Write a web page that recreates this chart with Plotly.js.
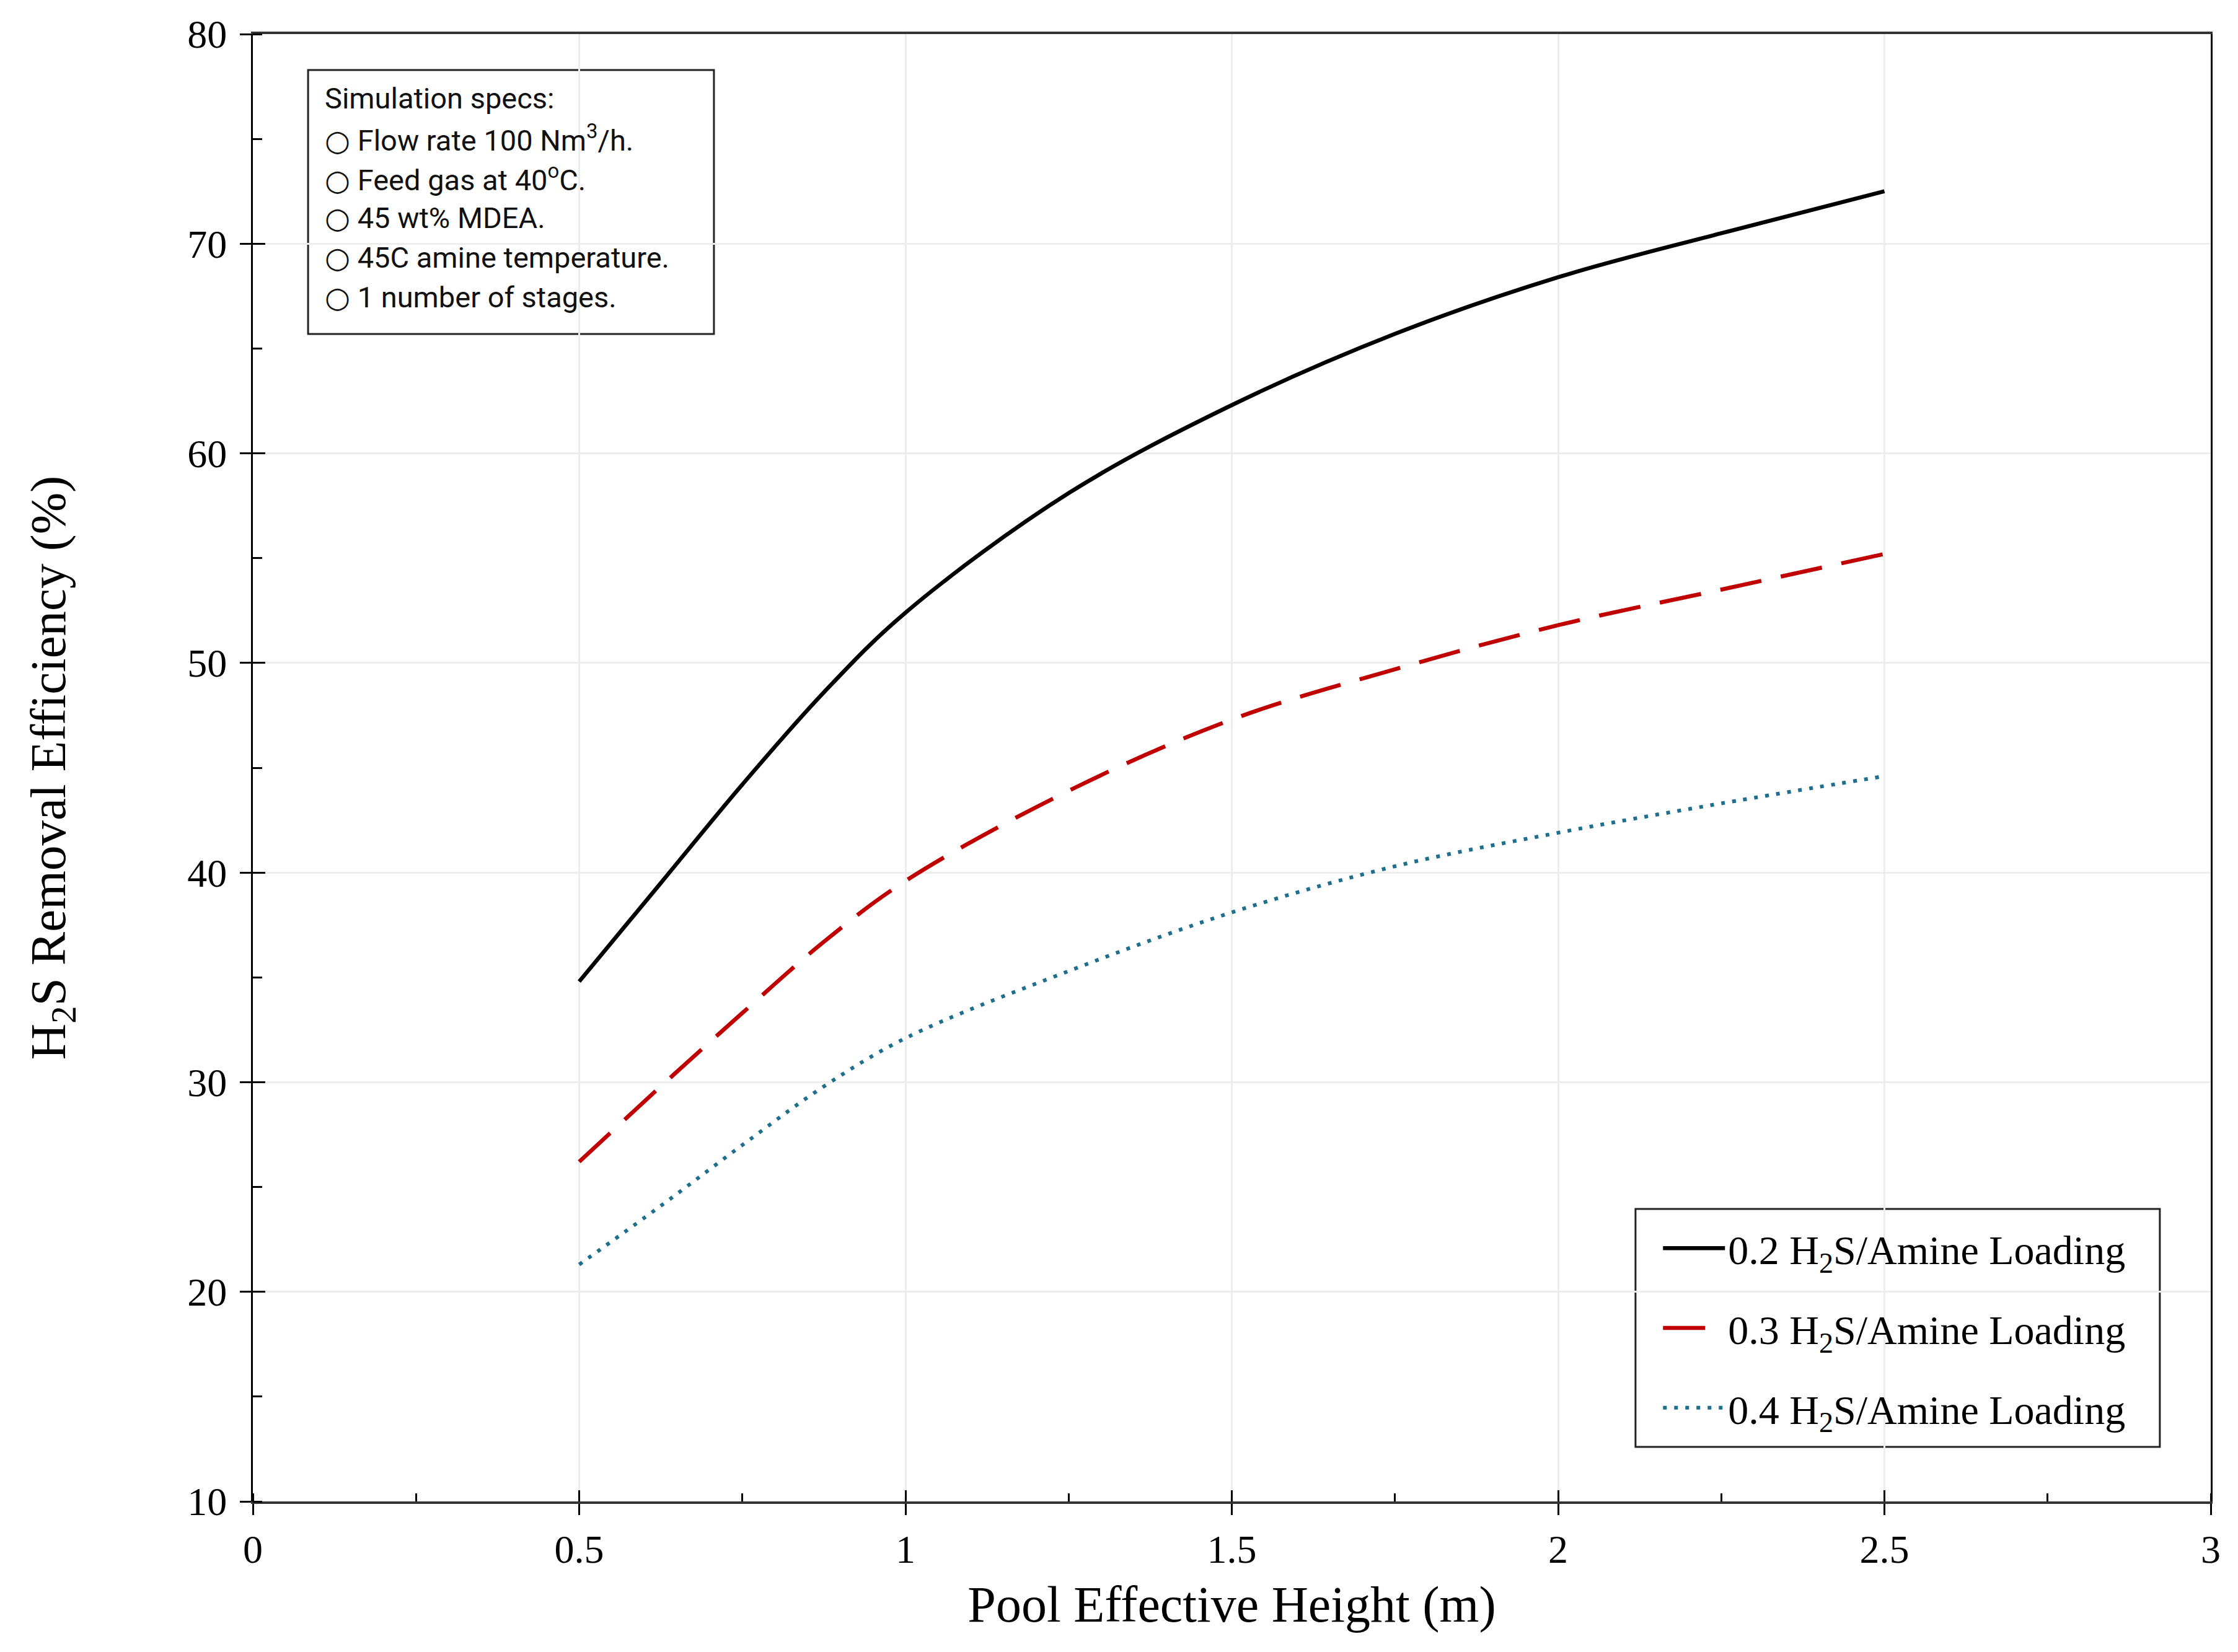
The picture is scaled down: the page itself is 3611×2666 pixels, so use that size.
<!DOCTYPE html>
<html>
<head>
<meta charset="utf-8">
<script src="https://cdn.plot.ly/plotly-3.0.1.min.js"></script>
<style>
  html, body { margin: 0; padding: 0; background: #fff; }
  #plot { width: 3611px; height: 2666px; }
</style>
</head>
<body>
<div id="plot"></div>
<script>
// pool effective height (m)
const height = [0.5, 0.625, 0.75, 0.875, 1.0, 1.25, 1.5, 1.75, 2.0, 2.25, 2.5]

// H2S removal efficiency (%)
const load02 = [34.8, 39.5, 44.2, 48.6, 52.4, 58.1, 62.3, 65.7, 68.4, 70.5, 72.5]
const load03 = [26.2, 29.8, 33.3, 36.7, 39.6, 43.9, 47.3, 49.7, 51.8, 53.5, 55.2]
const load04 = [21.3, 24.1, 27.0, 29.8, 32.1, 35.3, 38.1, 40.3, 41.9, 43.3, 44.6]

const seriesNames = [
  '0.2 H<sub>2</sub>S/Amine Loading',
  '0.3 H<sub>2</sub>S/Amine Loading',
  '0.4 H<sub>2</sub>S/Amine Loading'
]

const circle = '<span style="font-family:DejaVu Sans">○</span>'
const specLines = [
  'Simulation specs:',
  circle + ' Flow rate 100 Nm<sup>3</sup>/h.',
  circle + ' Feed gas at 40<sup>o</sup>C.',
  circle + ' 45 wt% MDEA.',
  circle + ' 45C amine temperature.',
  circle + ' 1 number of stages.'
]

const serif = 'Liberation Serif, Times New Roman, serif'
const sans = 'Roboto, Lato, sans-serif'

const styles = [
  { color: '#000000', width: 6.5, dash: 'solid' },
  { color: '#c00000', width: 6.5, dash: '68px,32px' },
  { color: '#1e6e8e', width: 6, dash: '6px,12px' }
]

const traces = [load02, load03, load04].map((ys, i) => ({
  x: height,
  y: ys,
  type: 'scatter',
  mode: 'lines',
  name: seriesNames[i],
  legendgroup: 'g' + i,
  line: { shape: 'spline', smoothing: 1, ...styles[i] }
}))

const annotations = specLines.map((t, i) => ({
  xref: 'paper', yref: 'paper',
  x: 0.036, y: 0.9563 - i * 0.0271,
  xanchor: 'left', yanchor: 'middle',
  showarrow: false,
  align: 'left',
  text: t,
  font: { family: sans, size: 47, color: '#111' }
}))

// frame boxes for the specs note and the legend (paper coords)
const boxes = [
  { x0: 0.0282, x1: 0.2355, y0: 0.7956, y1: 0.9755 },
  { x0: 0.7062, x1: 0.9740, y0: 0.0372, y1: 0.1993 }
]

const layout = {
  width: 3611,
  height: 2666,
  paper_bgcolor: '#fff',
  plot_bgcolor: '#fff',
  margin: { l: 408, r: 44, t: 55, b: 243 },
  showlegend: true,
  legend: {
    x: 0.706, y: 0.1935, xanchor: 'left', yanchor: 'top',
    bgcolor: 'rgba(0,0,0,0)',
    borderwidth: 0,
    traceorder: 'grouped',
    tracegroupgap: 40,
    itemwidth: 100,
    indentation: 40,
    font: { family: serif, size: 66, color: '#000' }
  },
  xaxis: {
    range: [0, 3],
    dtick: 0.5,
    tick0: 0,
    ticks: 'outside',
    ticklen: 18,
    tickwidth: 3,
    tickcolor: '#000',
    minor: { dtick: 0.25, ticks: 'inside', ticklen: 13, tickwidth: 3, tickcolor: '#000', showgrid: false },
    showline: true,
    linecolor: '#333',
    linewidth: 4,
    mirror: true,
    showgrid: true,
    gridcolor: '#ededed',
    gridwidth: 3,
    zeroline: false,
    tickfont: { family: serif, size: 64, color: '#000' },
    title: { text: 'Pool Effective Height (m)', standoff: 26, font: { family: serif, size: 82, color: '#000' } }
  },
  yaxis: {
    range: [10, 80],
    dtick: 10,
    tick0: 0,
    ticks: 'outside',
    ticklen: 18,
    tickwidth: 3,
    tickcolor: '#000',
    ticklabelstandoff: 8,
    minor: { dtick: 5, ticks: 'inside', ticklen: 15, tickwidth: 3, tickcolor: '#000', showgrid: false },
    showline: true,
    linecolor: '#000',
    linewidth: 3,
    mirror: true,
    showgrid: true,
    gridcolor: '#ededed',
    gridwidth: 3,
    zeroline: false,
    tickfont: { family: serif, size: 64, color: '#000' },
    title: { text: 'H<sub>2</sub>S Removal Efficiency (%)', standoff: 170, font: { family: serif, size: 81, color: '#000' } }
  },
  // second pair of axes only to draw the inner half of the major ticks
  xaxis2: {
    overlaying: 'x', anchor: 'y', side: 'bottom',
    range: [0, 3], dtick: 0.5, tick0: 0,
    ticks: 'inside', ticklen: 18, tickwidth: 3, tickcolor: '#000',
    showticklabels: false, showgrid: false, showline: false, zeroline: false
  },
  yaxis2: {
    overlaying: 'y', anchor: 'x', side: 'left',
    range: [10, 80], dtick: 10, tick0: 0,
    ticks: 'inside', ticklen: 20, tickwidth: 3, tickcolor: '#000',
    showticklabels: false, showgrid: false, showline: false, zeroline: false
  },
  shapes: boxes.map(b => ({
    type: 'rect', xref: 'paper', yref: 'paper',
    ...b,
    line: { color: '#222', width: 3 },
    fillcolor: '#fff',
    layer: 'below'
  })),
  annotations: annotations
}

// empty trace so the overlay axes get drawn
traces.push({ x: [], y: [], xaxis: 'x2', yaxis: 'y2', type: 'scatter', showlegend: false, hoverinfo: 'skip' })

Plotly.newPlot('plot', traces, layout, { staticPlot: true })
</script>
</body>
</html>
